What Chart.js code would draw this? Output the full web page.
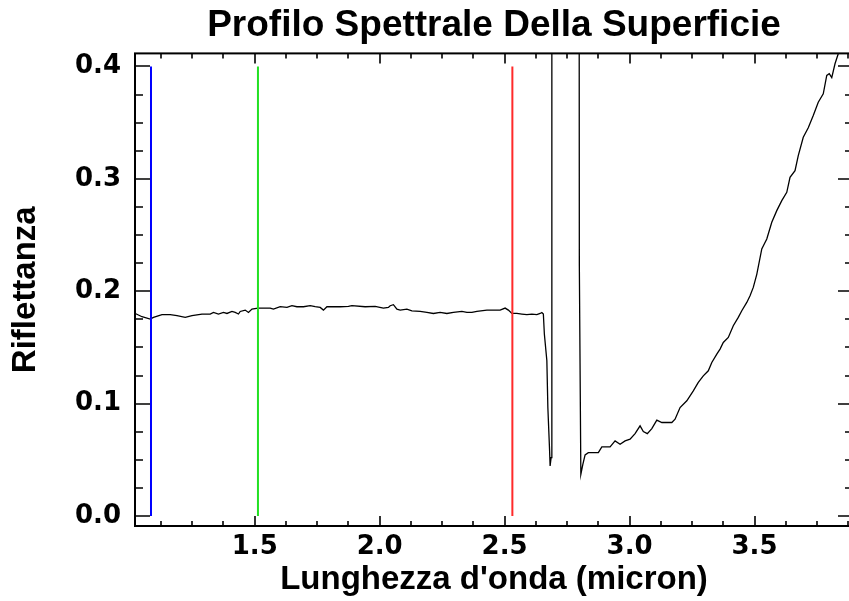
<!DOCTYPE html>
<html>
<head>
<meta charset="utf-8">
<script src="https://cdn.jsdelivr.net/npm/chart.js@4.4.1/dist/chart.umd.min.js"></script>
<style>
  html, body { margin: 0; padding: 0; background: #fff; overflow: hidden; }
  canvas { display: block; }
</style>
</head>
<body>
<canvas id="c" width="856" height="601"></canvas>
<script>
// Surface reflectance spectrum (wavelength in micron, reflectance 0..1)
const wavelengths = [
  1.022, 1.049, 1.082, 1.095, 1.129, 1.162, 1.189, 1.222, 1.249, 1.289,
  1.322, 1.335, 1.355, 1.375, 1.389, 1.409, 1.422, 1.435, 1.442, 1.462,
  1.475, 1.489, 1.513, 1.535, 1.562, 1.575, 1.602, 1.629, 1.649, 1.669,
  1.695, 1.722, 1.742, 1.762, 1.775, 1.789, 1.829, 1.842, 1.875, 1.889,
  1.942, 1.982, 2.015, 2.035, 2.042, 2.055, 2.069, 2.082, 2.109, 2.129,
  2.162, 2.189, 2.215, 2.242, 2.269, 2.295, 2.329, 2.349, 2.369, 2.389,
  2.429, 2.455, 2.482, 2.502, 2.515, 2.529, 2.549, 2.569, 2.589, 2.609,
  2.629, 2.642, 2.649, 2.655, 2.659, 2.669, 2.673, 2.680, 2.682, 2.686,
  2.689, 2.740, 2.797, 2.799, 2.805, 2.813, 2.822, 2.835, 2.875, 2.889,
  2.922, 2.942, 2.962, 2.982, 3.002, 3.022, 3.042, 3.055, 3.071, 3.089,
  3.109, 3.129, 3.169, 3.182, 3.202, 3.229, 3.255, 3.275, 3.295, 3.315,
  3.329, 3.349, 3.362, 3.375, 3.395, 3.415, 3.435, 3.449, 3.469, 3.482,
  3.495, 3.509, 3.529, 3.549, 3.569, 3.589, 3.609, 3.629, 3.642, 3.662,
  3.675, 3.695, 3.715, 3.735, 3.755, 3.775, 3.789, 3.799, 3.809, 3.822,
  3.835, 3.850
];
const reflectance = [
  0.1802, 0.1773, 0.1752, 0.1767, 0.1791, 0.1791, 0.1782, 0.1767, 0.1782, 0.1797,
  0.1797, 0.1811, 0.1797, 0.1811, 0.1802, 0.1820, 0.1811, 0.1797, 0.1820, 0.1832,
  0.1811, 0.1841, 0.1850, 0.1850, 0.1850, 0.1841, 0.1862, 0.1856, 0.1871, 0.1862,
  0.1862, 0.1871, 0.1862, 0.1856, 0.1832, 0.1862, 0.1862, 0.1862, 0.1865, 0.1871,
  0.1862, 0.1865, 0.1850, 0.1856, 0.1871, 0.1880, 0.1841, 0.1832, 0.1841, 0.1826,
  0.1820, 0.1811, 0.1802, 0.1811, 0.1802, 0.1811, 0.1820, 0.1811, 0.1811, 0.1820,
  0.1832, 0.1832, 0.1832, 0.1850, 0.1832, 0.1802, 0.1802, 0.1797, 0.1791, 0.1797,
  0.1791, 0.1802, 0.1811, 0.1797, 0.1619, 0.1381, 0.0965, 0.0579, 0.0445, 0.0519,
  0.9500, 1.1000, 0.9000, 0.2227, 0.0371, 0.0460, 0.0543, 0.0564, 0.0564, 0.0615,
  0.0615, 0.0668, 0.0639, 0.0668, 0.0683, 0.0733, 0.0802, 0.0751, 0.0733, 0.0778,
  0.0853, 0.0832, 0.0832, 0.0861, 0.0965, 0.1025, 0.1114, 0.1188, 0.1247, 0.1292,
  0.1366, 0.1440, 0.1485, 0.1544, 0.1589, 0.1693, 0.1767, 0.1826, 0.1900, 0.1960,
  0.2034, 0.2150, 0.2376, 0.2465, 0.2613, 0.2717, 0.2806, 0.2880, 0.3014, 0.3073,
  0.3207, 0.3370, 0.3454, 0.3563, 0.3682, 0.3757, 0.3920, 0.3935, 0.3900, 0.4024,
  0.4113, 0.4250
];

// Band markers (blue, green, red channels)
const markerWavelengths = [1.085, 1.513, 2.531];
const markerColors = ['#0000ff', '#22e022', '#ff2a2a'];
const markerRange = [0.0, 0.4];

// Axis ticks
const xTickValues = [1.5, 2.0, 2.5, 3.0, 3.5];
const xMinorValues = [1.125, 1.25, 1.375, 1.625, 1.75, 1.875, 2.125, 2.25, 2.375,
                      2.625, 2.75, 2.875, 3.125, 3.25, 3.375, 3.625, 3.75, 3.875];
const yTickValues = [0.0, 0.1, 0.2, 0.3, 0.4];
const yMinorValues = [0.025, 0.05, 0.075, 0.125, 0.15, 0.175, 0.225, 0.25, 0.275,
                      0.325, 0.35, 0.375];

const xRange = [1.021, 3.894];
const yRange = [-0.0089, 0.4116];

const spectrumPoints = wavelengths.map((w, i) => ({ x: w, y: reflectance[i] }));

const markerSets = markerWavelengths.map((w, i) => ({
  data: markerRange.map(r => ({ x: w, y: r })),
  borderColor: markerColors[i],
  borderWidth: 2,
  pointRadius: 0,
  order: 0
}));

// Box frame with inward ticks on all four sides
const framePlugin = {
  id: 'frame',
  afterDatasetsDraw(chart) {
    const { ctx, chartArea: a, scales: { x, y } } = chart;
    ctx.save();
    ctx.strokeStyle = '#000';
    ctx.lineWidth = 2;
    ctx.strokeRect(a.left, a.top, a.right - a.left, a.bottom - a.top);
    ctx.lineWidth = 1.6;
    ctx.beginPath();
    const xTicks = (vals, len) => vals.forEach(v => {
      const p = Math.round(x.getPixelForValue(v));
      ctx.moveTo(p, a.bottom); ctx.lineTo(p, a.bottom - len);
      ctx.moveTo(p, a.top); ctx.lineTo(p, a.top + len);
    });
    const yTicks = (vals, len) => vals.forEach(v => {
      const p = Math.round(y.getPixelForValue(v));
      ctx.moveTo(a.left, p); ctx.lineTo(a.left + len, p);
      ctx.moveTo(a.right, p); ctx.lineTo(a.right - len, p);
    });
    xTicks(xTickValues, 10);
    xTicks(xMinorValues, 5);
    yTicks(yTickValues, 15);
    yTicks(yMinorValues, 8);
    ctx.stroke();
    ctx.restore();
  }
};

const tickFont = { family: 'DejaVu Sans', weight: 'bold', size: 26 };
const titleFont = { family: 'Liberation Sans', weight: 'bold', size: 33, lineHeight: 1.2 };

new Chart(document.getElementById('c'), {
  type: 'line',
  data: {
    datasets: [
      {
        data: spectrumPoints,
        borderColor: '#000',
        borderWidth: 1.3,
        pointRadius: 0,
        tension: 0,
        order: 1
      },
      ...markerSets
    ]
  },
  options: {
    responsive: false,
    animation: false,
    devicePixelRatio: 1,
    layout: { padding: { left: 0, right: 3, top: 0, bottom: 0 } },
    plugins: {
      legend: { display: false },
      tooltip: { enabled: false },
      title: {
        display: true,
        fullSize: false,
        text: 'Profilo Spettrale Della Superficie',
        color: '#000',
        font: { family: 'Liberation Sans', weight: 'bold', size: 37, lineHeight: 1.2 },
        padding: { top: 4, bottom: 5 }
      }
    },
    scales: {
      x: {
        type: 'linear',
        min: xRange[0],
        max: xRange[1],
        afterBuildTicks: s => { s.ticks = xTickValues.map(v => ({ value: v })); },
        afterFit: s => { s.height = 75; },
        grid: { display: false, drawTicks: false },
        border: { display: false },
        ticks: {
          color: '#000',
          font: tickFont,
          padding: 6,
          maxRotation: 0,
          autoSkip: false,
          callback: v => Number(v).toFixed(1)
        },
        title: {
          display: true,
          text: "Lunghezza d'onda (micron)",
          color: '#000',
          font: titleFont,
          padding: { top: 0, bottom: 1 }
        }
      },
      y: {
        type: 'linear',
        min: yRange[0],
        max: yRange[1],
        afterBuildTicks: s => { s.ticks = yTickValues.map(v => ({ value: v })); },
        afterFit: s => { s.width = 135; },
        grid: { display: false, drawTicks: false },
        border: { display: false },
        ticks: {
          color: '#000',
          font: tickFont,
          padding: 14,
          autoSkip: false,
          callback: v => Number(v).toFixed(1)
        },
        title: {
          display: true,
          text: 'Riflettanza',
          color: '#000',
          font: titleFont,
          padding: { top: 6, bottom: 0 }
        }
      }
    }
  },
  plugins: [framePlugin]
});
</script>
</body>
</html>
